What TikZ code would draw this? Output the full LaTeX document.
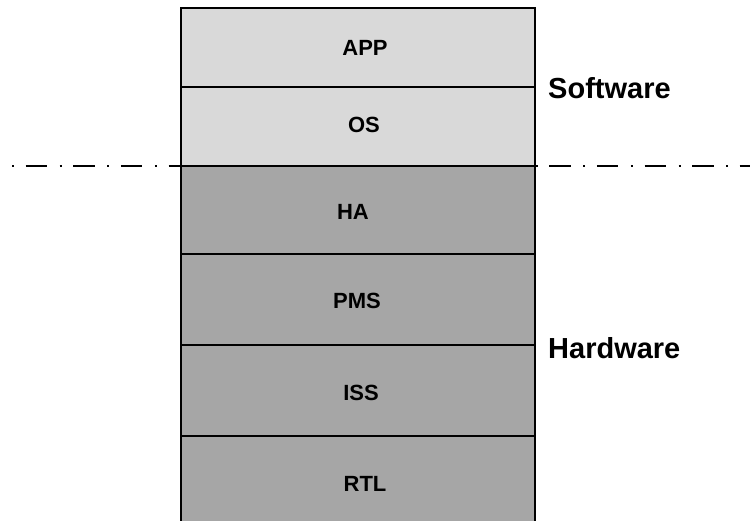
\documentclass[tikz,border=0pt]{standalone}
\usepackage{fontspec}
\setmainfont{Liberation Sans}
\begin{document}
\begin{tikzpicture}[x=1pt,y=-1pt,
  soft/.style={fill=swfill,draw=black,line width=1.8pt},
  hard/.style={fill=hwfill,draw=black,line width=1.8pt},
  layertext/.style={anchor=base,inner sep=0pt,font=\bfseries\fontsize{22}{26}\selectfont},
  sidetext/.style={anchor=base west,inner sep=0pt,font=\bfseries\fontsize{29}{34}\selectfont},
  divider/.style={line width=2.6pt,dash pattern=on 21.5pt off 12.5pt on 2pt off 11.6pt,dash phase=21.9pt}]
\definecolor{swfill}{HTML}{D9D9D9}
\definecolor{hwfill}{HTML}{A6A6A6}
\useasboundingbox (0,0) rectangle (750,520);
\clip (0,0) rectangle (750,520);

% software / hardware boundary
\coordinate (divL) at (0,166);
\coordinate (divR) at (750,166);
\draw[divider] (divL) -- (divR);

% layer stack
\draw[soft] (181,8.3) rectangle (535.3,87.3);
\draw[soft] (181,87.3) rectangle (535.3,165.7);
\draw[hard] (181,165.7) rectangle (535.3,254.3);
\draw[hard] (181,254.3) rectangle (535.3,345.3);
\draw[hard] (181,345.3) rectangle (535.3,436);
\draw[hard] (181,436) rectangle (535.3,540);

\node[layertext] (app) at (365,55) {APP};
\node[layertext] (os)  at (364,132) {OS};
\node[layertext] (ha)  at (353,219) {HA};
\node[layertext] (pms) at (357,308) {PMS};
\node[layertext] (iss) at (361,400) {ISS};
\node[layertext] (rtl) at (365,491) {RTL};

\node[sidetext] (sw) at (548,98) {Software};
\node[sidetext] (hw) at (548,358) {Hardware};
\end{tikzpicture}
\end{document}
